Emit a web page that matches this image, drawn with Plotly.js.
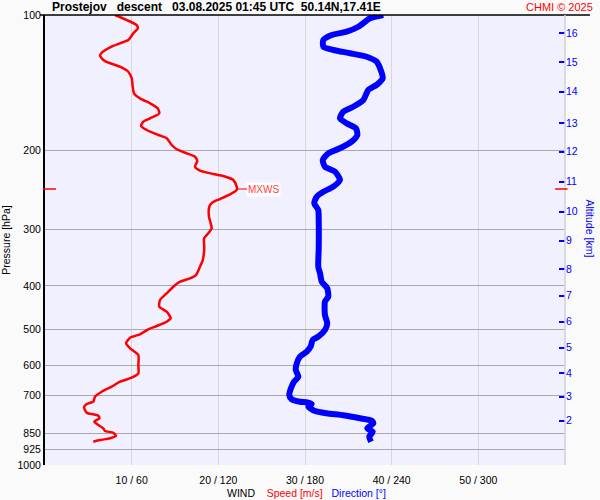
<!DOCTYPE html>
<html>
<head>
<meta charset="utf-8">
<script src="https://cdn.plot.ly/plotly-3.0.1.min.js"></script>
<style>html,body{margin:0;padding:0;background:#fafafa;}#chart{width:600px;height:500px;}</style>
</head>
<body>
<div id="chart"></div>
<script>
// ---- data ----
const speedPressure = [100,102.6,105.3,107.1,109.8,113.7,115.6,118.0,121.3,123.3,126.6,130.3,133.7,138.2,144.3,149.3,153.2,157.1,161.2,165.4,169.7,172.6,176.5,180.1,184.8,187.9,194.5,198.8,203.0,206.5,211.1,217.3,221.8,225.6,227.9,232.6,240.7,243.6,245.7,250.3,256.4,260.8,266.7,280.7,290.4,297.9,305.6,313.5,329.9,350.4,362.6,378.3,384.7,391.5,401.6,415.4,429.9,444.9,456.4,472.1,480.4,491.1,499.4,512.4,521.3,536.5,550.4,569.6,599.5,625.5,639.7,653.0,669.9,687.3,705.1,723.3,731.9,744.4,765.2,777.0,787.4,801.3,814.9,828.8,840.4,847.7,862.2,872.4,880.0,887.6];
const speed = [8.08,9.43,10.58,10.70,10.19,9.61,8.65,7.50,6.54,6.35,6.92,8.65,9.61,10.00,10.12,10.27,10.96,12.12,13.00,13.19,12.12,11.34,11.08,11.73,13.07,14.04,14.62,15.20,16.35,17.31,17.57,17.31,17.88,19.42,20.57,21.73,22.12,22.15,22.04,21.35,20.19,19.35,18.96,18.92,19.12,19.23,18.84,18.35,18.38,18.20,17.88,17.42,16.73,15.58,14.80,14.04,13.27,13.19,14.04,14.50,14.04,12.89,11.92,10.96,9.81,9.35,9.81,10.77,10.77,10.77,10.00,8.65,7.70,6.54,5.77,5.57,4.81,4.50,4.81,6.15,6.27,5.69,6.15,6.73,6.92,7.88,8.19,7.50,6.35,5.57];

const dirPressure = [100,101.7,106.2,108.9,110.8,113.7,117.6,119.6,121.6,123.8,127.0,132.5,138.2,143.0,146.8,154.5,159.9,164.0,169.7,174.1,178.6,184.8,191.2,197.8,203.0,210.0,217.3,222.9,232.6,240.7,247.0,253.4,262.1,271.3,285.5,329.9,362.6,375.0,391.5,404.9,422.7,433.7,464.2,484.3,501.2,518.7,527.5,545.9,560.0,574.5,594.3,615.0,636.5,653.0,675.5,699.0,714.5,723.3,725.6,731.9,742.0,758.6,767.5,775.5,787.4,797.2,807.8,828.8,843.4,865.3,887.6];
const direction = [234.2,225.0,216.9,208.9,198.5,192.7,192.7,199.6,211.2,222.7,229.6,232.4,233.8,229.6,223.8,220.4,213.4,206.5,204.2,208.9,215.3,216.2,212.3,204.2,196.1,192.3,193.8,200.8,204.2,199.6,192.7,188.1,186.4,189.2,189.5,189.5,189.2,190.4,191.6,195.4,196.1,193.8,193.8,195.4,193.8,189.2,185.3,183.9,181.2,176.5,174.3,173.6,175.4,172.4,170.3,169.1,170.8,176.5,181.6,184.6,182.3,186.9,195.0,206.5,218.1,226.2,227.3,223.1,226.9,224.5,225.7];

const pressureTicks = [100,200,300,400,500,600,700,850,925,1000];
const speedTicks = [10,20,30,40,50];
const dirTicks = [60,120,180,240,300];
const altitudeKm = [2,3,4,5,6,7,8,9,10,11,12,13,14,15,16];
const altitudePressure = [797.2,705.1,625.5,548.7,480.4,420.6,366.8,317.4,273.6,234.6,201.2,174.1,148.1,127.4,109.8];

const titleText = 'Prostejov\u00a0\u00a0\u00a0descent\u00a0\u00a0\u00a003.08.2025 01:45 UTC\u00a0\u00a050.14N,17.41E';

// ---- derived ----
let iMax = 0;
speed.forEach((v,i)=>{ if(v>speed[iMax]) iMax=i; });
const mxSpeed = speed[iMax], mxP = speedPressure[iMax];
const xTickText = speedTicks.map((s,i)=> s + ' / ' + dirTicks[i]);

const FONT = 'Arial, "Liberation Sans", sans-serif';

const traces = [
  {x: speed, y: speedPressure, type:'scatter', mode:'lines',
   line:{color:'#ff0000', width:2.5, shape:'spline', smoothing:0.6},
   xaxis:'x', yaxis:'y', hoverinfo:'skip'},
  {x: direction, y: dirPressure, type:'scatter', mode:'lines',
   line:{color:'#0000ff', width:6, shape:'spline', smoothing:0.6},
   xaxis:'x2', yaxis:'y2', hoverinfo:'skip'}
];

const layout = {
  width:600, height:500,
  margin:{l:45, r:35, t:15, b:35, pad:0},
  paper_bgcolor:'#fafafa', plot_bgcolor:'#f0f0ff',
  showlegend:false,
  font:{family:FONT, size:10.5, color:'#000'},
  xaxis:{range:[0,60], tickvals:speedTicks, ticktext:xTickText,
         showgrid:true, gridcolor:'#d8d8d8', gridwidth:1,
         zeroline:false, showline:false, ticks:'outside', ticklen:5,
         tickcolor:'rgba(0,0,0,0)', tickfont:{size:10.5, color:'#000'}},
  xaxis2:{range:[0,360], overlaying:'x', side:'top', visible:false, showgrid:false},
  yaxis:{type:'log', range:[3,2], tickvals:pressureTicks, ticktext:pressureTicks.map(String),
         showgrid:true, gridcolor:'#a8a8a8', gridwidth:1, zeroline:false,
         showline:true, linecolor:'#000', linewidth:2, ticks:'',
         tickfont:{size:10.5, color:'#000'},
         title:{text:'Pressure [hPa]', font:{size:10.5, color:'#000'}, standoff:8}},
  yaxis2:{type:'log', range:[3,2], overlaying:'y', side:'right',
          tickvals:altitudePressure, ticktext:altitudeKm.map(String),
          showgrid:false, zeroline:false, showline:false,
          ticks:'inside', ticklen:6, tickwidth:2, tickcolor:'#0000ff',
          tickfont:{size:10.5, color:'#0000ff'}},
  shapes:[
    {type:'line', xref:'paper', yref:'paper', x0:-0.0096, x1:1.048, y0:1, y1:1,
     line:{color:'#000', width:1.5}},
    {type:'line', xref:'paper', yref:'paper', x0:1, x1:1, y0:0, y1:1,
     line:{color:'#d0d0d8', width:1.5}},
    {type:'line', xref:'paper', yref:'y', x0:-0.004, x1:0.021, y0:mxP, y1:mxP,
     line:{color:'#ff0000', width:1.5}},
    {type:'line', xref:'paper', yref:'y', x0:0.981, x1:1.005, y0:mxP, y1:mxP,
     line:{color:'#ff0000', width:1.5}}
  ],
  annotations:[
    {text:titleText, xref:'paper', yref:'paper', x:0.0096, y:1.0167,
     xanchor:'left', yanchor:'middle', showarrow:false,
     font:{size:12, color:'#000', family:FONT, weight:'bold'}},
    {text:'CHMI © 2025', xref:'paper', yref:'paper', x:1.0577, y:1.0167,
     xanchor:'right', yanchor:'middle', showarrow:false,
     font:{size:11, color:'#ff0000'}},
    {text:'Altitude [km]', xref:'paper', yref:'paper', x:1.0471, y:0.5244,
     xanchor:'center', yanchor:'middle', textangle:90, showarrow:false,
     font:{size:10.5, color:'#0000ff'}},
    {text:'WIND\u00a0\u00a0\u00a0\u00a0<span style="color:#ff0000">Speed [m/s]</span>\u00a0\u00a0\u00a0<span style="color:#0000ff">Direction [°]</span>',
     xref:'paper', yref:'paper', x:0.503, y:-0.0622, xanchor:'center', yanchor:'middle',
     showarrow:false, font:{size:10.5, color:'#000'}},
    {text:'MXWS', x:mxSpeed, y:Math.log10(mxP), xref:'x', yref:'y',
     showarrow:true, arrowhead:0, arrowcolor:'#ff0000', arrowwidth:1.2,
     ax:27, ay:0, standoff:0, bgcolor:'#ffffff', borderpad:1,
     font:{size:10, color:'#ff4040'}}
  ]
};

Plotly.newPlot('chart', traces, layout, {staticPlot:true, displayModeBar:false});
</script>
</body>
</html>
